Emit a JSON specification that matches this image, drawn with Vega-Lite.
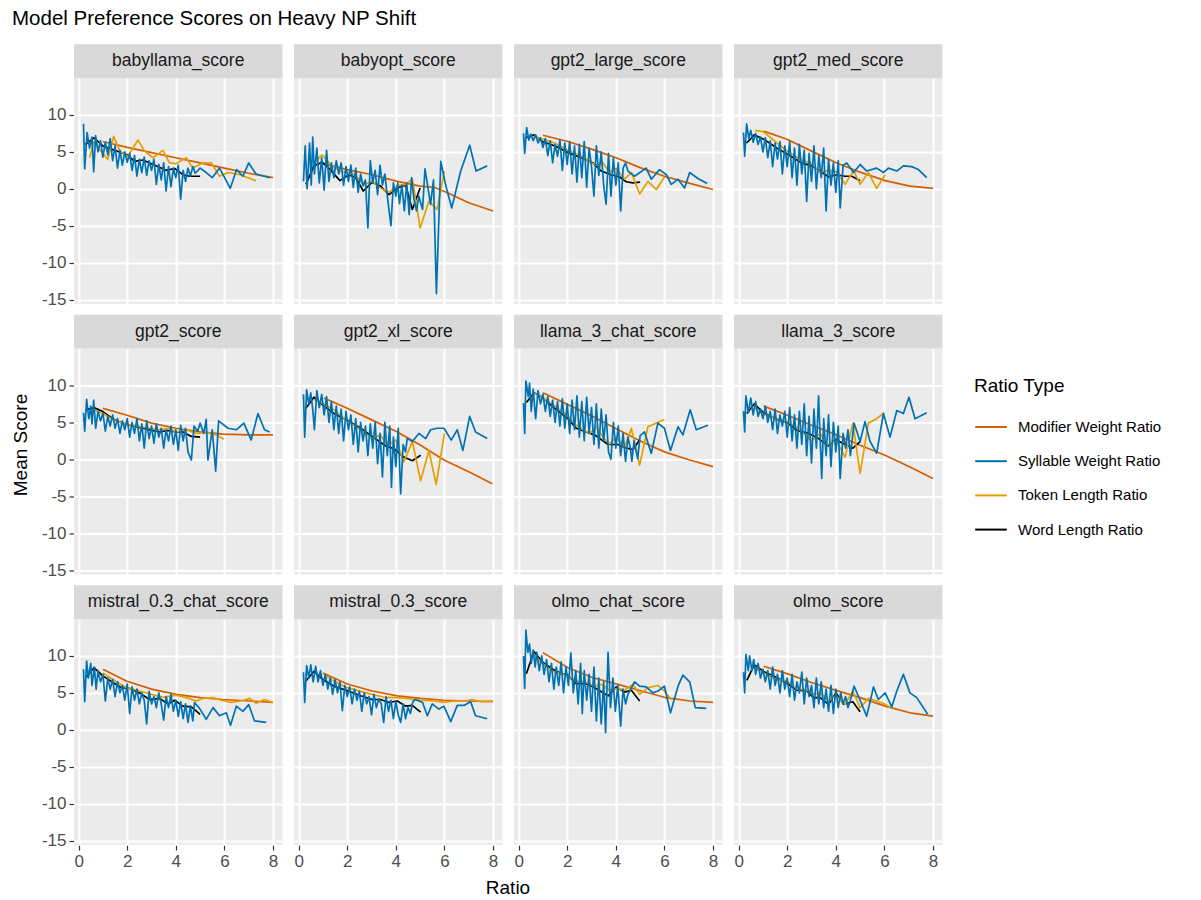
{
"$schema": "https://vega.github.io/schema/vega-lite/v6.json",
"background": "white",
"padding": {"left": 11, "top": 8, "right": 5, "bottom": 6},
"title": {"text": "Model Preference Scores on Heavy NP Shift", "anchor": "start", "frame": "bounds", "fontSize": 20.5, "fontWeight": "normal", "color": "#000000", "offset": 15},
"datasets": {
"pn": [{"p":1,"panel":"babyllama_score","r":1,"c":1},{"p":2,"panel":"babyopt_score","r":1,"c":2},{"p":3,"panel":"gpt2_large_score","r":1,"c":3},{"p":4,"panel":"gpt2_med_score","r":1,"c":4},{"p":5,"panel":"gpt2_score","r":2,"c":1},{"p":6,"panel":"gpt2_xl_score","r":2,"c":2},{"p":7,"panel":"llama_3_chat_score","r":2,"c":3},{"p":8,"panel":"llama_3_score","r":2,"c":4},{"p":9,"panel":"mistral_0.3_chat_score","r":3,"c":1},{"p":10,"panel":"mistral_0.3_score","r":3,"c":2},{"p":11,"panel":"olmo_chat_score","r":3,"c":3},{"p":12,"panel":"olmo_score","r":3,"c":4}],
"tn": [{"t":"M","type":"Modifier Weight Ratio"},{"t":"S","type":"Syllable Weight Ratio"},{"t":"T","type":"Token Length Ratio"},{"t":"W","type":"Word Length Ratio"}]
},
"data": {"values": [
{"p":1,"t":"M","x":1,"y":6.4},{"p":1,"t":"M","x":2,"y":5.6},{"p":1,"t":"M","x":3,"y":4.9},{"p":1,"t":"M","x":4,"y":4.2},{"p":1,"t":"M","x":5,"y":3.5},{"p":1,"t":"M","x":6,"y":2.8},{"p":1,"t":"M","x":7,"y":2.1},{"p":1,"t":"M","x":8,"y":1.5},
{"p":1,"t":"W","x":0.27,"y":6.0},{"p":1,"t":"W","x":0.63,"y":6.9},{"p":1,"t":"W","x":1.0,"y":5.8},{"p":1,"t":"W","x":1.4,"y":5.3},{"p":1,"t":"W","x":2.0,"y":4.6},{"p":1,"t":"W","x":2.3,"y":3.7},{"p":1,"t":"W","x":2.65,"y":3.9},{"p":1,"t":"W","x":3.06,"y":3.3},{"p":1,"t":"W","x":3.6,"y":2.5},{"p":1,"t":"W","x":3.95,"y":2.75},{"p":1,"t":"W","x":4.3,"y":1.9},{"p":1,"t":"W","x":4.57,"y":1.7},{"p":1,"t":"W","x":5.0,"y":1.7},
{"p":1,"t":"T","x":0.45,"y":4.2},{"p":1,"t":"T","x":0.63,"y":6.4},{"p":1,"t":"T","x":0.86,"y":5.3},{"p":1,"t":"T","x":1.2,"y":4.0},{"p":1,"t":"T","x":1.44,"y":7.1},{"p":1,"t":"T","x":1.7,"y":5.1},{"p":1,"t":"T","x":2.03,"y":4.4},{"p":1,"t":"T","x":2.44,"y":6.6},{"p":1,"t":"T","x":2.72,"y":5.1},{"p":1,"t":"T","x":3.06,"y":4.2},{"p":1,"t":"T","x":3.47,"y":5.2},{"p":1,"t":"T","x":3.74,"y":3.5},{"p":1,"t":"T","x":4.0,"y":3.4},{"p":1,"t":"T","x":4.43,"y":4.2},{"p":1,"t":"T","x":4.7,"y":2.8},{"p":1,"t":"T","x":5.1,"y":3.5},{"p":1,"t":"T","x":5.46,"y":3.5},{"p":1,"t":"T","x":5.8,"y":1.7},{"p":1,"t":"T","x":6.15,"y":2.2},{"p":1,"t":"T","x":6.63,"y":1.9},{"p":1,"t":"T","x":7.3,"y":1.1},
{"p":1,"t":"S","x":0.2,"y":8.8},{"p":1,"t":"S","x":0.25,"y":2.7},{"p":1,"t":"S","x":0.35,"y":7.6},{"p":1,"t":"S","x":0.45,"y":5.5},{"p":1,"t":"S","x":0.55,"y":7.0},{"p":1,"t":"S","x":0.62,"y":2.3},{"p":1,"t":"S","x":0.7,"y":7.2},{"p":1,"t":"S","x":0.8,"y":5.0},{"p":1,"t":"S","x":0.9,"y":6.5},{"p":1,"t":"S","x":1.0,"y":4.3},{"p":1,"t":"S","x":1.1,"y":6.3},{"p":1,"t":"S","x":1.2,"y":4.6},{"p":1,"t":"S","x":1.3,"y":6.8},{"p":1,"t":"S","x":1.4,"y":3.8},{"p":1,"t":"S","x":1.5,"y":5.8},{"p":1,"t":"S","x":1.6,"y":2.8},{"p":1,"t":"S","x":1.7,"y":5.2},{"p":1,"t":"S","x":1.8,"y":3.2},{"p":1,"t":"S","x":1.9,"y":5.0},{"p":1,"t":"S","x":2.0,"y":3.6},{"p":1,"t":"S","x":2.1,"y":4.8},{"p":1,"t":"S","x":2.2,"y":2.5},{"p":1,"t":"S","x":2.3,"y":4.5},{"p":1,"t":"S","x":2.4,"y":1.7},{"p":1,"t":"S","x":2.5,"y":4.0},{"p":1,"t":"S","x":2.6,"y":2.2},{"p":1,"t":"S","x":2.7,"y":4.3},{"p":1,"t":"S","x":2.8,"y":1.8},{"p":1,"t":"S","x":2.9,"y":3.8},{"p":1,"t":"S","x":3.0,"y":2.5},{"p":1,"t":"S","x":3.1,"y":4.0},{"p":1,"t":"S","x":3.2,"y":0.6},{"p":1,"t":"S","x":3.3,"y":3.3},{"p":1,"t":"S","x":3.4,"y":1.2},{"p":1,"t":"S","x":3.5,"y":3.5},{"p":1,"t":"S","x":3.6,"y":-0.3},{"p":1,"t":"S","x":3.7,"y":3.0},{"p":1,"t":"S","x":3.8,"y":0.3},{"p":1,"t":"S","x":3.9,"y":2.8},{"p":1,"t":"S","x":4.0,"y":1.5},{"p":1,"t":"S","x":4.1,"y":3.2},{"p":1,"t":"S","x":4.2,"y":-1.4},{"p":1,"t":"S","x":4.3,"y":2.5},{"p":1,"t":"S","x":4.4,"y":1.0},{"p":1,"t":"S","x":4.5,"y":2.8},{"p":1,"t":"S","x":4.6,"y":1.7},{"p":1,"t":"S","x":4.7,"y":3.0},{"p":1,"t":"S","x":4.8,"y":2.1},{"p":1,"t":"S","x":5.0,"y":2.8},{"p":1,"t":"S","x":5.25,"y":2.2},{"p":1,"t":"S","x":5.5,"y":1.5},{"p":1,"t":"S","x":5.8,"y":2.8},{"p":1,"t":"S","x":6.24,"y":0.05},{"p":1,"t":"S","x":6.5,"y":2.6},{"p":1,"t":"S","x":6.76,"y":1.7},{"p":1,"t":"S","x":7.0,"y":3.5},{"p":1,"t":"S","x":7.3,"y":2.0},{"p":1,"t":"S","x":7.86,"y":1.5},

{"p":2,"t":"M","x":1.0,"y":3.4},{"p":2,"t":"M","x":2.0,"y":2.6},{"p":2,"t":"M","x":3.03,"y":1.9},{"p":2,"t":"M","x":4.06,"y":1.0},{"p":2,"t":"M","x":5.0,"y":0.36},{"p":2,"t":"M","x":5.57,"y":0.2},{"p":2,"t":"M","x":6.1,"y":-0.5},{"p":2,"t":"M","x":7.0,"y":-1.9},{"p":2,"t":"M","x":8.0,"y":-3.0},
{"p":2,"t":"W","x":0.3,"y":0.6},{"p":2,"t":"W","x":0.63,"y":3.1},{"p":2,"t":"W","x":0.97,"y":3.6},{"p":2,"t":"W","x":1.3,"y":2.6},{"p":2,"t":"W","x":1.7,"y":1.1},{"p":2,"t":"W","x":2.07,"y":1.9},{"p":2,"t":"W","x":2.35,"y":1.5},{"p":2,"t":"W","x":2.66,"y":-0.3},{"p":2,"t":"W","x":3.03,"y":0.9},{"p":2,"t":"W","x":3.37,"y":0.36},{"p":2,"t":"W","x":3.72,"y":-0.8},{"p":2,"t":"W","x":4.06,"y":0.1},{"p":2,"t":"W","x":4.4,"y":0.5},{"p":2,"t":"W","x":4.68,"y":-2.8},{"p":2,"t":"W","x":5.0,"y":0.1},
{"p":2,"t":"T","x":0.63,"y":3.5},{"p":2,"t":"T","x":0.97,"y":4.6},{"p":2,"t":"T","x":1.3,"y":3.3},{"p":2,"t":"T","x":1.7,"y":2.4},{"p":2,"t":"T","x":2.07,"y":2.2},{"p":2,"t":"T","x":2.35,"y":1.7},{"p":2,"t":"T","x":2.7,"y":0.6},{"p":2,"t":"T","x":3.03,"y":1.0},{"p":2,"t":"T","x":3.37,"y":0.1},{"p":2,"t":"T","x":3.72,"y":-0.5},{"p":2,"t":"T","x":4.06,"y":0.4},{"p":2,"t":"T","x":4.4,"y":0.6},{"p":2,"t":"T","x":4.68,"y":1.3},{"p":2,"t":"T","x":5.0,"y":-5.3},{"p":2,"t":"T","x":5.36,"y":-1.7},{"p":2,"t":"T","x":5.7,"y":-2.8},{"p":2,"t":"T","x":6.0,"y":2.4},
{"p":2,"t":"S","x":0.2,"y":1.0},{"p":2,"t":"S","x":0.27,"y":5.8},{"p":2,"t":"S","x":0.35,"y":0.0},{"p":2,"t":"S","x":0.45,"y":6.2},{"p":2,"t":"S","x":0.52,"y":0.5},{"p":2,"t":"S","x":0.58,"y":7.0},{"p":2,"t":"S","x":0.65,"y":2.0},{"p":2,"t":"S","x":0.75,"y":5.5},{"p":2,"t":"S","x":0.85,"y":0.8},{"p":2,"t":"S","x":0.95,"y":4.2},{"p":2,"t":"S","x":1.05,"y":-0.2},{"p":2,"t":"S","x":1.15,"y":5.2},{"p":2,"t":"S","x":1.25,"y":1.0},{"p":2,"t":"S","x":1.35,"y":3.5},{"p":2,"t":"S","x":1.45,"y":1.5},{"p":2,"t":"S","x":1.55,"y":3.8},{"p":2,"t":"S","x":1.65,"y":2.0},{"p":2,"t":"S","x":1.75,"y":3.5},{"p":2,"t":"S","x":1.85,"y":0.5},{"p":2,"t":"S","x":1.95,"y":3.0},{"p":2,"t":"S","x":2.05,"y":1.0},{"p":2,"t":"S","x":2.15,"y":3.2},{"p":2,"t":"S","x":2.25,"y":0.2},{"p":2,"t":"S","x":2.35,"y":2.8},{"p":2,"t":"S","x":2.45,"y":-0.5},{"p":2,"t":"S","x":2.55,"y":2.0},{"p":2,"t":"S","x":2.65,"y":0.4},{"p":2,"t":"S","x":2.75,"y":1.2},{"p":2,"t":"S","x":2.85,"y":-5.3},{"p":2,"t":"S","x":2.95,"y":3.8},{"p":2,"t":"S","x":3.05,"y":0.8},{"p":2,"t":"S","x":3.15,"y":2.5},{"p":2,"t":"S","x":3.25,"y":-0.8},{"p":2,"t":"S","x":3.35,"y":3.2},{"p":2,"t":"S","x":3.45,"y":0.5},{"p":2,"t":"S","x":3.55,"y":2.0},{"p":2,"t":"S","x":3.65,"y":-1.0},{"p":2,"t":"S","x":3.8,"y":-5.0},{"p":2,"t":"S","x":3.9,"y":0.8},{"p":2,"t":"S","x":4.0,"y":-1.0},{"p":2,"t":"S","x":4.08,"y":0.8},{"p":2,"t":"S","x":4.15,"y":-2.0},{"p":2,"t":"S","x":4.25,"y":0.5},{"p":2,"t":"S","x":4.35,"y":-3.0},{"p":2,"t":"S","x":4.45,"y":0.8},{"p":2,"t":"S","x":4.55,"y":-3.5},{"p":2,"t":"S","x":4.65,"y":1.5},{"p":2,"t":"S","x":4.75,"y":-1.5},{"p":2,"t":"S","x":4.85,"y":-3.0},{"p":2,"t":"S","x":4.95,"y":-1.0},{"p":2,"t":"S","x":5.1,"y":-2.8},{"p":2,"t":"S","x":5.2,"y":2.7},{"p":2,"t":"S","x":5.43,"y":-2.1},{"p":2,"t":"S","x":5.55,"y":1.2},{"p":2,"t":"S","x":5.67,"y":-14.2},{"p":2,"t":"S","x":5.85,"y":3.7},{"p":2,"t":"S","x":6.05,"y":0.5},{"p":2,"t":"S","x":6.3,"y":-2.6},{"p":2,"t":"S","x":6.67,"y":2.4},{"p":2,"t":"S","x":7.04,"y":5.9},{"p":2,"t":"S","x":7.3,"y":2.4},{"p":2,"t":"S","x":7.76,"y":3.1},

{"p":3,"t":"M","x":1.0,"y":7.25},{"p":3,"t":"M","x":2.03,"y":6.4},{"p":3,"t":"M","x":3.06,"y":5.3},{"p":3,"t":"M","x":4.09,"y":4.1},{"p":3,"t":"M","x":5.05,"y":2.8},{"p":3,"t":"M","x":6.0,"y":1.7},{"p":3,"t":"M","x":6.97,"y":0.8},{"p":3,"t":"M","x":8.0,"y":-0.1},
{"p":3,"t":"W","x":0.3,"y":6.9},{"p":3,"t":"W","x":0.63,"y":7.3},{"p":3,"t":"W","x":1.0,"y":6.35},{"p":3,"t":"W","x":1.5,"y":5.8},{"p":3,"t":"W","x":2.03,"y":4.9},{"p":3,"t":"W","x":2.58,"y":4.2},{"p":3,"t":"W","x":3.06,"y":3.5},{"p":3,"t":"W","x":3.4,"y":2.4},{"p":3,"t":"W","x":3.8,"y":1.9},{"p":3,"t":"W","x":4.16,"y":1.6},{"p":3,"t":"W","x":4.43,"y":0.95},{"p":3,"t":"W","x":4.7,"y":0.8},{"p":3,"t":"W","x":5.0,"y":0.9},
{"p":3,"t":"T","x":0.63,"y":7.1},{"p":3,"t":"T","x":1.0,"y":6.7},{"p":3,"t":"T","x":1.48,"y":6.2},{"p":3,"t":"T","x":2.03,"y":5.2},{"p":3,"t":"T","x":2.58,"y":4.4},{"p":3,"t":"T","x":2.99,"y":3.5},{"p":3,"t":"T","x":3.26,"y":3.2},{"p":3,"t":"T","x":3.47,"y":3.5},{"p":3,"t":"T","x":3.74,"y":2.25},{"p":3,"t":"T","x":4.02,"y":2.75},{"p":3,"t":"T","x":4.36,"y":1.3},{"p":3,"t":"T","x":4.64,"y":2.2},{"p":3,"t":"T","x":4.98,"y":-0.7},{"p":3,"t":"T","x":5.32,"y":1.0},{"p":3,"t":"T","x":5.67,"y":-0.1},{"p":3,"t":"T","x":6.0,"y":1.6},
{"p":3,"t":"S","x":0.2,"y":7.5},{"p":3,"t":"S","x":0.25,"y":4.8},{"p":3,"t":"S","x":0.33,"y":8.3},{"p":3,"t":"S","x":0.42,"y":6.6},{"p":3,"t":"S","x":0.5,"y":7.4},{"p":3,"t":"S","x":0.6,"y":6.5},{"p":3,"t":"S","x":0.7,"y":7.3},{"p":3,"t":"S","x":0.8,"y":6.2},{"p":3,"t":"S","x":0.9,"y":6.9},{"p":3,"t":"S","x":1.0,"y":5.6},{"p":3,"t":"S","x":1.1,"y":6.8},{"p":3,"t":"S","x":1.2,"y":4.5},{"p":3,"t":"S","x":1.3,"y":6.5},{"p":3,"t":"S","x":1.4,"y":3.5},{"p":3,"t":"S","x":1.5,"y":6.0},{"p":3,"t":"S","x":1.6,"y":4.4},{"p":3,"t":"S","x":1.7,"y":6.6},{"p":3,"t":"S","x":1.8,"y":2.5},{"p":3,"t":"S","x":1.9,"y":6.2},{"p":3,"t":"S","x":2.0,"y":3.3},{"p":3,"t":"S","x":2.1,"y":6.4},{"p":3,"t":"S","x":2.2,"y":2.0},{"p":3,"t":"S","x":2.3,"y":5.8},{"p":3,"t":"S","x":2.4,"y":0.9},{"p":3,"t":"S","x":2.5,"y":6.0},{"p":3,"t":"S","x":2.6,"y":1.5},{"p":3,"t":"S","x":2.7,"y":6.4},{"p":3,"t":"S","x":2.8,"y":0.2},{"p":3,"t":"S","x":2.9,"y":5.5},{"p":3,"t":"S","x":3.0,"y":3.0},{"p":3,"t":"S","x":3.1,"y":-1.0},{"p":3,"t":"S","x":3.2,"y":5.8},{"p":3,"t":"S","x":3.3,"y":1.8},{"p":3,"t":"S","x":3.4,"y":5.0},{"p":3,"t":"S","x":3.5,"y":0.5},{"p":3,"t":"S","x":3.6,"y":-2.1},{"p":3,"t":"S","x":3.7,"y":4.8},{"p":3,"t":"S","x":3.8,"y":-1.0},{"p":3,"t":"S","x":3.9,"y":4.2},{"p":3,"t":"S","x":4.0,"y":0.5},{"p":3,"t":"S","x":4.1,"y":3.5},{"p":3,"t":"S","x":4.2,"y":-3.0},{"p":3,"t":"S","x":4.3,"y":2.8},{"p":3,"t":"S","x":4.4,"y":3.5},{"p":3,"t":"S","x":4.5,"y":2.4},{"p":3,"t":"S","x":4.77,"y":1.7},{"p":3,"t":"S","x":5.25,"y":2.8},{"p":3,"t":"S","x":5.46,"y":1.3},{"p":3,"t":"S","x":5.8,"y":2.6},{"p":3,"t":"S","x":6.08,"y":1.9},{"p":3,"t":"S","x":6.28,"y":0.6},{"p":3,"t":"S","x":6.56,"y":1.3},{"p":3,"t":"S","x":6.83,"y":0.1},{"p":3,"t":"S","x":7.04,"y":2.2},{"p":3,"t":"S","x":7.38,"y":1.4},{"p":3,"t":"S","x":7.76,"y":0.7},

{"p":4,"t":"M","x":1.03,"y":7.8},{"p":4,"t":"M","x":1.99,"y":6.7},{"p":4,"t":"M","x":3.0,"y":5.1},{"p":4,"t":"M","x":4.04,"y":3.5},{"p":4,"t":"M","x":5.0,"y":2.25},{"p":4,"t":"M","x":6.03,"y":1.1},{"p":4,"t":"M","x":7.05,"y":0.36},{"p":4,"t":"M","x":8.0,"y":0.05},
{"p":4,"t":"W","x":0.32,"y":6.2},{"p":4,"t":"W","x":0.48,"y":6.7},{"p":4,"t":"W","x":0.64,"y":7.3},{"p":4,"t":"W","x":1.03,"y":6.7},{"p":4,"t":"W","x":1.58,"y":5.5},{"p":4,"t":"W","x":2.05,"y":4.6},{"p":4,"t":"W","x":2.6,"y":3.5},{"p":4,"t":"W","x":3.0,"y":3.1},{"p":4,"t":"W","x":3.36,"y":2.4},{"p":4,"t":"W","x":3.7,"y":1.6},{"p":4,"t":"W","x":4.04,"y":1.9},{"p":4,"t":"W","x":4.38,"y":1.7},{"p":4,"t":"W","x":4.66,"y":1.7},{"p":4,"t":"W","x":5.0,"y":1.1},
{"p":4,"t":"T","x":0.68,"y":7.9},{"p":4,"t":"T","x":1.03,"y":7.7},{"p":4,"t":"T","x":1.58,"y":6.2},{"p":4,"t":"T","x":2.05,"y":5.0},{"p":4,"t":"T","x":2.53,"y":4.0},{"p":4,"t":"T","x":3.0,"y":3.4},{"p":4,"t":"T","x":3.36,"y":2.2},{"p":4,"t":"T","x":3.7,"y":2.5},{"p":4,"t":"T","x":4.04,"y":2.3},{"p":4,"t":"T","x":4.38,"y":0.6},{"p":4,"t":"T","x":4.73,"y":2.5},{"p":4,"t":"T","x":5.0,"y":0.6},{"p":4,"t":"T","x":5.34,"y":2.2},{"p":4,"t":"T","x":5.68,"y":0.05},{"p":4,"t":"T","x":6.03,"y":1.9},
{"p":4,"t":"S","x":0.2,"y":7.6},{"p":4,"t":"S","x":0.25,"y":4.4},{"p":4,"t":"S","x":0.33,"y":8.8},{"p":4,"t":"S","x":0.42,"y":6.8},{"p":4,"t":"S","x":0.5,"y":7.9},{"p":4,"t":"S","x":0.6,"y":6.3},{"p":4,"t":"S","x":0.7,"y":7.5},{"p":4,"t":"S","x":0.8,"y":6.0},{"p":4,"t":"S","x":0.9,"y":7.0},{"p":4,"t":"S","x":1.0,"y":5.0},{"p":4,"t":"S","x":1.1,"y":6.9},{"p":4,"t":"S","x":1.2,"y":4.2},{"p":4,"t":"S","x":1.3,"y":6.5},{"p":4,"t":"S","x":1.4,"y":3.0},{"p":4,"t":"S","x":1.5,"y":6.2},{"p":4,"t":"S","x":1.6,"y":4.0},{"p":4,"t":"S","x":1.7,"y":6.4},{"p":4,"t":"S","x":1.8,"y":2.0},{"p":4,"t":"S","x":1.9,"y":5.8},{"p":4,"t":"S","x":2.0,"y":3.0},{"p":4,"t":"S","x":2.1,"y":6.4},{"p":4,"t":"S","x":2.2,"y":1.5},{"p":4,"t":"S","x":2.3,"y":5.5},{"p":4,"t":"S","x":2.4,"y":0.5},{"p":4,"t":"S","x":2.5,"y":6.0},{"p":4,"t":"S","x":2.6,"y":2.0},{"p":4,"t":"S","x":2.7,"y":5.2},{"p":4,"t":"S","x":2.8,"y":-1.7},{"p":4,"t":"S","x":2.9,"y":4.8},{"p":4,"t":"S","x":3.0,"y":1.0},{"p":4,"t":"S","x":3.1,"y":5.8},{"p":4,"t":"S","x":3.2,"y":0.0},{"p":4,"t":"S","x":3.3,"y":4.5},{"p":4,"t":"S","x":3.4,"y":1.5},{"p":4,"t":"S","x":3.5,"y":5.5},{"p":4,"t":"S","x":3.6,"y":-3.0},{"p":4,"t":"S","x":3.7,"y":4.0},{"p":4,"t":"S","x":3.8,"y":0.5},{"p":4,"t":"S","x":3.9,"y":3.5},{"p":4,"t":"S","x":4.0,"y":-0.5},{"p":4,"t":"S","x":4.1,"y":3.8},{"p":4,"t":"S","x":4.18,"y":-2.6},{"p":4,"t":"S","x":4.3,"y":3.2},{"p":4,"t":"S","x":4.45,"y":3.5},{"p":4,"t":"S","x":4.73,"y":2.2},{"p":4,"t":"S","x":5.0,"y":3.3},{"p":4,"t":"S","x":5.27,"y":2.4},{"p":4,"t":"S","x":5.68,"y":2.8},{"p":4,"t":"S","x":5.96,"y":2.2},{"p":4,"t":"S","x":6.16,"y":2.8},{"p":4,"t":"S","x":6.51,"y":2.4},{"p":4,"t":"S","x":6.78,"y":3.1},{"p":4,"t":"S","x":7.12,"y":3.0},{"p":4,"t":"S","x":7.4,"y":2.6},{"p":4,"t":"S","x":7.74,"y":1.5},

{"p":5,"t":"M","x":1.0,"y":6.9},{"p":5,"t":"M","x":1.96,"y":6.0},{"p":5,"t":"M","x":3.0,"y":4.9},{"p":5,"t":"M","x":4.0,"y":4.2},{"p":5,"t":"M","x":5.0,"y":3.7},{"p":5,"t":"M","x":5.94,"y":3.4},{"p":5,"t":"M","x":7.04,"y":3.3},{"p":5,"t":"M","x":8.0,"y":3.3},
{"p":5,"t":"W","x":0.3,"y":6.7},{"p":5,"t":"W","x":0.63,"y":7.0},{"p":5,"t":"W","x":1.0,"y":6.45},{"p":5,"t":"W","x":1.4,"y":5.5},{"p":5,"t":"W","x":1.8,"y":4.9},{"p":5,"t":"W","x":2.37,"y":4.4},{"p":5,"t":"W","x":2.9,"y":4.0},{"p":5,"t":"W","x":3.33,"y":3.7},{"p":5,"t":"W","x":3.68,"y":3.9},{"p":5,"t":"W","x":4.0,"y":3.7},{"p":5,"t":"W","x":4.3,"y":3.7},{"p":5,"t":"W","x":4.64,"y":3.1},{"p":5,"t":"W","x":5.0,"y":3.0},
{"p":5,"t":"T","x":0.63,"y":6.7},{"p":5,"t":"T","x":1.0,"y":6.2},{"p":5,"t":"T","x":1.4,"y":5.4},{"p":5,"t":"T","x":1.8,"y":4.9},{"p":5,"t":"T","x":2.37,"y":4.5},{"p":5,"t":"T","x":2.9,"y":4.2},{"p":5,"t":"T","x":3.33,"y":4.0},{"p":5,"t":"T","x":3.68,"y":4.2},{"p":5,"t":"T","x":4.0,"y":3.7},{"p":5,"t":"T","x":4.43,"y":4.0},{"p":5,"t":"T","x":4.84,"y":3.5},{"p":5,"t":"T","x":5.25,"y":3.6},{"p":5,"t":"T","x":5.67,"y":3.3},{"p":5,"t":"T","x":5.97,"y":2.7},
{"p":5,"t":"S","x":0.2,"y":6.3},{"p":5,"t":"S","x":0.25,"y":3.8},{"p":5,"t":"S","x":0.33,"y":8.1},{"p":5,"t":"S","x":0.42,"y":5.5},{"p":5,"t":"S","x":0.5,"y":7.2},{"p":5,"t":"S","x":0.55,"y":4.8},{"p":5,"t":"S","x":0.62,"y":8.0},{"p":5,"t":"S","x":0.7,"y":4.2},{"p":5,"t":"S","x":0.8,"y":6.5},{"p":5,"t":"S","x":0.9,"y":5.2},{"p":5,"t":"S","x":1.0,"y":6.2},{"p":5,"t":"S","x":1.1,"y":3.8},{"p":5,"t":"S","x":1.2,"y":5.8},{"p":5,"t":"S","x":1.3,"y":4.5},{"p":5,"t":"S","x":1.4,"y":6.0},{"p":5,"t":"S","x":1.5,"y":4.2},{"p":5,"t":"S","x":1.6,"y":5.5},{"p":5,"t":"S","x":1.7,"y":3.5},{"p":5,"t":"S","x":1.8,"y":5.2},{"p":5,"t":"S","x":1.9,"y":4.0},{"p":5,"t":"S","x":2.0,"y":5.5},{"p":5,"t":"S","x":2.1,"y":3.0},{"p":5,"t":"S","x":2.2,"y":5.0},{"p":5,"t":"S","x":2.3,"y":3.5},{"p":5,"t":"S","x":2.4,"y":5.5},{"p":5,"t":"S","x":2.5,"y":2.5},{"p":5,"t":"S","x":2.6,"y":4.8},{"p":5,"t":"S","x":2.7,"y":1.5},{"p":5,"t":"S","x":2.8,"y":5.2},{"p":5,"t":"S","x":2.9,"y":2.8},{"p":5,"t":"S","x":3.0,"y":4.5},{"p":5,"t":"S","x":3.1,"y":2.2},{"p":5,"t":"S","x":3.2,"y":4.8},{"p":5,"t":"S","x":3.3,"y":3.0},{"p":5,"t":"S","x":3.4,"y":4.2},{"p":5,"t":"S","x":3.5,"y":1.5},{"p":5,"t":"S","x":3.6,"y":4.0},{"p":5,"t":"S","x":3.7,"y":2.5},{"p":5,"t":"S","x":3.8,"y":4.5},{"p":5,"t":"S","x":3.9,"y":2.0},{"p":5,"t":"S","x":4.0,"y":4.0},{"p":5,"t":"S","x":4.1,"y":1.2},{"p":5,"t":"S","x":4.2,"y":4.6},{"p":5,"t":"S","x":4.3,"y":2.5},{"p":5,"t":"S","x":4.4,"y":4.2},{"p":5,"t":"S","x":4.5,"y":1.0},{"p":5,"t":"S","x":4.64,"y":-0.1},{"p":5,"t":"S","x":4.75,"y":4.5},{"p":5,"t":"S","x":4.9,"y":3.8},{"p":5,"t":"S","x":5.0,"y":4.9},{"p":5,"t":"S","x":5.15,"y":3.5},{"p":5,"t":"S","x":5.25,"y":5.4},{"p":5,"t":"S","x":5.32,"y":-0.1},{"p":5,"t":"S","x":5.5,"y":4.0},{"p":5,"t":"S","x":5.64,"y":-1.6},{"p":5,"t":"S","x":5.76,"y":5.2},{"p":5,"t":"S","x":6.15,"y":4.2},{"p":5,"t":"S","x":6.5,"y":4.0},{"p":5,"t":"S","x":6.8,"y":4.9},{"p":5,"t":"S","x":7.1,"y":2.6},{"p":5,"t":"S","x":7.38,"y":6.2},{"p":5,"t":"S","x":7.65,"y":4.0},{"p":5,"t":"S","x":7.86,"y":3.7},

{"p":6,"t":"M","x":1.04,"y":8.3},{"p":6,"t":"M","x":2.0,"y":6.9},{"p":6,"t":"M","x":3.03,"y":5.3},{"p":6,"t":"M","x":4.06,"y":3.7},{"p":6,"t":"M","x":5.02,"y":1.9},{"p":6,"t":"M","x":5.98,"y":-0.1},{"p":6,"t":"M","x":7.0,"y":-1.7},{"p":6,"t":"M","x":7.97,"y":-3.3},
{"p":6,"t":"W","x":0.3,"y":6.9},{"p":6,"t":"W","x":0.63,"y":8.4},{"p":6,"t":"W","x":0.97,"y":7.4},{"p":6,"t":"W","x":1.45,"y":6.2},{"p":6,"t":"W","x":2.0,"y":5.3},{"p":6,"t":"W","x":2.55,"y":4.2},{"p":6,"t":"W","x":3.03,"y":3.1},{"p":6,"t":"W","x":3.58,"y":1.8},{"p":6,"t":"W","x":3.92,"y":1.45},{"p":6,"t":"W","x":4.33,"y":0.3},{"p":6,"t":"W","x":4.68,"y":-0.2},{"p":6,"t":"W","x":5.02,"y":0.55},
{"p":6,"t":"T","x":0.63,"y":8.1},{"p":6,"t":"T","x":0.97,"y":7.6},{"p":6,"t":"T","x":1.45,"y":6.7},{"p":6,"t":"T","x":2.0,"y":5.2},{"p":6,"t":"T","x":2.55,"y":4.0},{"p":6,"t":"T","x":3.03,"y":2.8},{"p":6,"t":"T","x":3.37,"y":3.3},{"p":6,"t":"T","x":3.65,"y":1.9},{"p":6,"t":"T","x":4.0,"y":2.6},{"p":6,"t":"T","x":4.33,"y":-0.36},{"p":6,"t":"T","x":4.68,"y":2.4},{"p":6,"t":"T","x":5.02,"y":-2.9},{"p":6,"t":"T","x":5.36,"y":1.2},{"p":6,"t":"T","x":5.66,"y":-3.4},{"p":6,"t":"T","x":6.0,"y":3.5},
{"p":6,"t":"S","x":0.2,"y":8.8},{"p":6,"t":"S","x":0.25,"y":3.0},{"p":6,"t":"S","x":0.33,"y":9.4},{"p":6,"t":"S","x":0.42,"y":7.5},{"p":6,"t":"S","x":0.5,"y":9.0},{"p":6,"t":"S","x":0.58,"y":6.8},{"p":6,"t":"S","x":0.65,"y":4.0},{"p":6,"t":"S","x":0.75,"y":9.3},{"p":6,"t":"S","x":0.85,"y":7.0},{"p":6,"t":"S","x":0.95,"y":8.8},{"p":6,"t":"S","x":1.05,"y":6.0},{"p":6,"t":"S","x":1.15,"y":8.5},{"p":6,"t":"S","x":1.25,"y":5.0},{"p":6,"t":"S","x":1.35,"y":7.8},{"p":6,"t":"S","x":1.45,"y":4.0},{"p":6,"t":"S","x":1.55,"y":7.2},{"p":6,"t":"S","x":1.65,"y":3.5},{"p":6,"t":"S","x":1.75,"y":6.8},{"p":6,"t":"S","x":1.85,"y":2.5},{"p":6,"t":"S","x":1.95,"y":6.5},{"p":6,"t":"S","x":2.05,"y":4.0},{"p":6,"t":"S","x":2.15,"y":6.0},{"p":6,"t":"S","x":2.25,"y":2.0},{"p":6,"t":"S","x":2.35,"y":5.5},{"p":6,"t":"S","x":2.45,"y":1.0},{"p":6,"t":"S","x":2.55,"y":5.0},{"p":6,"t":"S","x":2.65,"y":2.5},{"p":6,"t":"S","x":2.75,"y":4.5},{"p":6,"t":"S","x":2.85,"y":0.5},{"p":6,"t":"S","x":2.95,"y":4.8},{"p":6,"t":"S","x":3.05,"y":1.5},{"p":6,"t":"S","x":3.15,"y":5.0},{"p":6,"t":"S","x":3.25,"y":-0.6},{"p":6,"t":"S","x":3.35,"y":3.5},{"p":6,"t":"S","x":3.45,"y":-2.4},{"p":6,"t":"S","x":3.55,"y":5.0},{"p":6,"t":"S","x":3.65,"y":0.5},{"p":6,"t":"S","x":3.75,"y":4.5},{"p":6,"t":"S","x":3.82,"y":-3.8},{"p":6,"t":"S","x":3.9,"y":3.0},{"p":6,"t":"S","x":4.0,"y":-1.0},{"p":6,"t":"S","x":4.1,"y":4.2},{"p":6,"t":"S","x":4.2,"y":-4.7},{"p":6,"t":"S","x":4.3,"y":2.0},{"p":6,"t":"S","x":4.4,"y":1.0},{"p":6,"t":"S","x":4.47,"y":2.8},{"p":6,"t":"S","x":4.68,"y":2.4},{"p":6,"t":"S","x":4.95,"y":3.5},{"p":6,"t":"S","x":5.23,"y":2.8},{"p":6,"t":"S","x":5.43,"y":4.0},{"p":6,"t":"S","x":5.7,"y":4.2},{"p":6,"t":"S","x":5.98,"y":4.2},{"p":6,"t":"S","x":6.28,"y":2.6},{"p":6,"t":"S","x":6.53,"y":4.0},{"p":6,"t":"S","x":6.76,"y":1.2},{"p":6,"t":"S","x":7.04,"y":5.8},{"p":6,"t":"S","x":7.28,"y":3.7},{"p":6,"t":"S","x":7.76,"y":2.8},

{"p":7,"t":"M","x":1.0,"y":9.0},{"p":7,"t":"M","x":2.03,"y":7.4},{"p":7,"t":"M","x":3.06,"y":5.8},{"p":7,"t":"M","x":4.09,"y":4.0},{"p":7,"t":"M","x":5.05,"y":2.4},{"p":7,"t":"M","x":6.0,"y":1.0},{"p":7,"t":"M","x":7.04,"y":-0.1},{"p":7,"t":"M","x":8.0,"y":-1.0},
{"p":7,"t":"W","x":0.32,"y":7.7},{"p":7,"t":"W","x":0.63,"y":9.0},{"p":7,"t":"W","x":1.0,"y":8.3},{"p":7,"t":"W","x":1.41,"y":7.1},{"p":7,"t":"W","x":1.76,"y":6.2},{"p":7,"t":"W","x":2.03,"y":5.5},{"p":7,"t":"W","x":2.37,"y":4.2},{"p":7,"t":"W","x":2.78,"y":3.7},{"p":7,"t":"W","x":3.13,"y":3.3},{"p":7,"t":"W","x":3.68,"y":2.0},{"p":7,"t":"W","x":4.09,"y":2.0},{"p":7,"t":"W","x":4.36,"y":1.6},{"p":7,"t":"W","x":4.7,"y":1.3},{"p":7,"t":"W","x":4.98,"y":2.6},
{"p":7,"t":"T","x":0.63,"y":8.95},{"p":7,"t":"T","x":1.0,"y":8.3},{"p":7,"t":"T","x":1.41,"y":7.4},{"p":7,"t":"T","x":2.03,"y":5.8},{"p":7,"t":"T","x":2.37,"y":4.6},{"p":7,"t":"T","x":2.65,"y":4.0},{"p":7,"t":"T","x":2.92,"y":3.5},{"p":7,"t":"T","x":3.2,"y":4.4},{"p":7,"t":"T","x":3.47,"y":3.0},{"p":7,"t":"T","x":3.74,"y":2.1},{"p":7,"t":"T","x":4.02,"y":3.0},{"p":7,"t":"T","x":4.36,"y":1.6},{"p":7,"t":"T","x":4.64,"y":4.2},{"p":7,"t":"T","x":4.98,"y":-0.8},{"p":7,"t":"T","x":5.32,"y":4.4},{"p":7,"t":"T","x":5.67,"y":4.9},{"p":7,"t":"T","x":6.0,"y":5.4},
{"p":7,"t":"S","x":0.2,"y":7.6},{"p":7,"t":"S","x":0.25,"y":3.5},{"p":7,"t":"S","x":0.3,"y":10.6},{"p":7,"t":"S","x":0.4,"y":8.5},{"p":7,"t":"S","x":0.45,"y":10.3},{"p":7,"t":"S","x":0.52,"y":6.5},{"p":7,"t":"S","x":0.6,"y":9.5},{"p":7,"t":"S","x":0.7,"y":5.5},{"p":7,"t":"S","x":0.8,"y":9.3},{"p":7,"t":"S","x":0.9,"y":7.5},{"p":7,"t":"S","x":1.0,"y":8.8},{"p":7,"t":"S","x":1.1,"y":6.5},{"p":7,"t":"S","x":1.2,"y":8.5},{"p":7,"t":"S","x":1.3,"y":5.8},{"p":7,"t":"S","x":1.4,"y":8.0},{"p":7,"t":"S","x":1.5,"y":5.0},{"p":7,"t":"S","x":1.6,"y":7.8},{"p":7,"t":"S","x":1.7,"y":4.5},{"p":7,"t":"S","x":1.8,"y":8.2},{"p":7,"t":"S","x":1.9,"y":4.2},{"p":7,"t":"S","x":2.0,"y":7.5},{"p":7,"t":"S","x":2.1,"y":3.5},{"p":7,"t":"S","x":2.2,"y":8.0},{"p":7,"t":"S","x":2.3,"y":4.0},{"p":7,"t":"S","x":2.4,"y":8.6},{"p":7,"t":"S","x":2.5,"y":3.0},{"p":7,"t":"S","x":2.6,"y":7.8},{"p":7,"t":"S","x":2.7,"y":2.5},{"p":7,"t":"S","x":2.8,"y":8.4},{"p":7,"t":"S","x":2.9,"y":3.5},{"p":7,"t":"S","x":3.0,"y":7.0},{"p":7,"t":"S","x":3.1,"y":2.0},{"p":7,"t":"S","x":3.2,"y":7.5},{"p":7,"t":"S","x":3.3,"y":1.5},{"p":7,"t":"S","x":3.4,"y":6.8},{"p":7,"t":"S","x":3.5,"y":2.5},{"p":7,"t":"S","x":3.6,"y":6.0},{"p":7,"t":"S","x":3.7,"y":1.0},{"p":7,"t":"S","x":3.8,"y":0.0},{"p":7,"t":"S","x":3.9,"y":5.0},{"p":7,"t":"S","x":4.0,"y":1.5},{"p":7,"t":"S","x":4.1,"y":4.5},{"p":7,"t":"S","x":4.2,"y":0.5},{"p":7,"t":"S","x":4.3,"y":3.5},{"p":7,"t":"S","x":4.4,"y":-0.3},{"p":7,"t":"S","x":4.5,"y":3.0},{"p":7,"t":"S","x":4.6,"y":1.5},{"p":7,"t":"S","x":4.66,"y":-0.3},{"p":7,"t":"S","x":4.75,"y":2.5},{"p":7,"t":"S","x":4.9,"y":0.1},{"p":7,"t":"S","x":5.0,"y":3.2},{"p":7,"t":"S","x":5.18,"y":3.7},{"p":7,"t":"S","x":5.46,"y":0.8},{"p":7,"t":"S","x":5.73,"y":4.9},{"p":7,"t":"S","x":6.0,"y":4.2},{"p":7,"t":"S","x":6.25,"y":1.2},{"p":7,"t":"S","x":6.56,"y":4.4},{"p":7,"t":"S","x":6.76,"y":3.3},{"p":7,"t":"S","x":7.06,"y":6.7},{"p":7,"t":"S","x":7.31,"y":4.0},{"p":7,"t":"S","x":7.79,"y":4.6},

{"p":8,"t":"M","x":1.03,"y":7.2},{"p":8,"t":"M","x":1.99,"y":6.0},{"p":8,"t":"M","x":3.0,"y":4.6},{"p":8,"t":"M","x":4.04,"y":3.3},{"p":8,"t":"M","x":5.0,"y":1.9},{"p":8,"t":"M","x":6.03,"y":0.55},{"p":8,"t":"M","x":7.05,"y":-1.05},{"p":8,"t":"M","x":8.0,"y":-2.6},
{"p":8,"t":"W","x":0.34,"y":6.2},{"p":8,"t":"W","x":0.64,"y":7.5},{"p":8,"t":"W","x":1.03,"y":6.3},{"p":8,"t":"W","x":1.58,"y":5.4},{"p":8,"t":"W","x":1.99,"y":5.0},{"p":8,"t":"W","x":2.4,"y":3.9},{"p":8,"t":"W","x":2.88,"y":3.5},{"p":8,"t":"W","x":3.29,"y":2.8},{"p":8,"t":"W","x":3.7,"y":1.8},{"p":8,"t":"W","x":3.97,"y":2.7},{"p":8,"t":"W","x":4.32,"y":2.1},{"p":8,"t":"W","x":4.7,"y":1.5},{"p":8,"t":"W","x":5.0,"y":2.4},
{"p":8,"t":"T","x":0.64,"y":7.0},{"p":8,"t":"T","x":1.03,"y":6.1},{"p":8,"t":"T","x":1.58,"y":5.5},{"p":8,"t":"T","x":1.99,"y":5.1},{"p":8,"t":"T","x":2.53,"y":4.0},{"p":8,"t":"T","x":3.0,"y":2.5},{"p":8,"t":"T","x":3.36,"y":3.5},{"p":8,"t":"T","x":3.63,"y":1.9},{"p":8,"t":"T","x":4.01,"y":2.6},{"p":8,"t":"T","x":4.38,"y":0.3},{"p":8,"t":"T","x":4.7,"y":4.9},{"p":8,"t":"T","x":5.0,"y":-1.9},{"p":8,"t":"T","x":5.34,"y":4.9},{"p":8,"t":"T","x":5.68,"y":5.5},{"p":8,"t":"T","x":5.99,"y":6.3},
{"p":8,"t":"S","x":0.2,"y":6.5},{"p":8,"t":"S","x":0.25,"y":3.7},{"p":8,"t":"S","x":0.3,"y":8.6},{"p":8,"t":"S","x":0.4,"y":6.3},{"p":8,"t":"S","x":0.5,"y":8.3},{"p":8,"t":"S","x":0.6,"y":6.0},{"p":8,"t":"S","x":0.7,"y":7.8},{"p":8,"t":"S","x":0.8,"y":5.8},{"p":8,"t":"S","x":0.9,"y":6.8},{"p":8,"t":"S","x":1.0,"y":5.5},{"p":8,"t":"S","x":1.1,"y":7.2},{"p":8,"t":"S","x":1.2,"y":5.0},{"p":8,"t":"S","x":1.3,"y":6.5},{"p":8,"t":"S","x":1.4,"y":4.0},{"p":8,"t":"S","x":1.5,"y":6.8},{"p":8,"t":"S","x":1.6,"y":3.5},{"p":8,"t":"S","x":1.7,"y":6.0},{"p":8,"t":"S","x":1.8,"y":4.5},{"p":8,"t":"S","x":1.9,"y":6.5},{"p":8,"t":"S","x":2.0,"y":3.0},{"p":8,"t":"S","x":2.1,"y":7.0},{"p":8,"t":"S","x":2.2,"y":2.5},{"p":8,"t":"S","x":2.3,"y":6.0},{"p":8,"t":"S","x":2.4,"y":1.5},{"p":8,"t":"S","x":2.5,"y":6.5},{"p":8,"t":"S","x":2.6,"y":2.0},{"p":8,"t":"S","x":2.7,"y":7.5},{"p":8,"t":"S","x":2.8,"y":0.5},{"p":8,"t":"S","x":2.9,"y":5.8},{"p":8,"t":"S","x":3.0,"y":-0.5},{"p":8,"t":"S","x":3.1,"y":6.8},{"p":8,"t":"S","x":3.2,"y":1.5},{"p":8,"t":"S","x":3.29,"y":8.6},{"p":8,"t":"S","x":3.42,"y":-2.6},{"p":8,"t":"S","x":3.5,"y":5.5},{"p":8,"t":"S","x":3.6,"y":0.5},{"p":8,"t":"S","x":3.7,"y":6.0},{"p":8,"t":"S","x":3.8,"y":-1.0},{"p":8,"t":"S","x":3.9,"y":5.0},{"p":8,"t":"S","x":4.0,"y":1.0},{"p":8,"t":"S","x":4.1,"y":4.5},{"p":8,"t":"S","x":4.18,"y":-2.6},{"p":8,"t":"S","x":4.3,"y":3.5},{"p":8,"t":"S","x":4.4,"y":1.5},{"p":8,"t":"S","x":4.5,"y":4.0},{"p":8,"t":"S","x":4.6,"y":0.5},{"p":8,"t":"S","x":4.75,"y":4.9},{"p":8,"t":"S","x":5.0,"y":2.4},{"p":8,"t":"S","x":5.2,"y":5.1},{"p":8,"t":"S","x":5.4,"y":2.5},{"p":8,"t":"S","x":5.68,"y":0.8},{"p":8,"t":"S","x":5.96,"y":6.2},{"p":8,"t":"S","x":6.23,"y":3.0},{"p":8,"t":"S","x":6.51,"y":6.6},{"p":8,"t":"S","x":6.78,"y":6.2},{"p":8,"t":"S","x":7.01,"y":8.4},{"p":8,"t":"S","x":7.26,"y":5.5},{"p":8,"t":"S","x":7.74,"y":6.3},

{"p":9,"t":"M","x":1.0,"y":8.2},{"p":9,"t":"M","x":1.96,"y":6.6},{"p":9,"t":"M","x":3.0,"y":5.5},{"p":9,"t":"M","x":4.02,"y":4.8},{"p":9,"t":"M","x":5.0,"y":4.35},{"p":9,"t":"M","x":5.94,"y":4.1},{"p":9,"t":"M","x":7.04,"y":3.9},{"p":9,"t":"M","x":8.0,"y":3.7},
{"p":9,"t":"W","x":0.32,"y":7.1},{"p":9,"t":"W","x":0.63,"y":8.4},{"p":9,"t":"W","x":1.0,"y":7.3},{"p":9,"t":"W","x":1.41,"y":6.4},{"p":9,"t":"W","x":1.76,"y":5.7},{"p":9,"t":"W","x":2.1,"y":5.6},{"p":9,"t":"W","x":2.51,"y":5.0},{"p":9,"t":"W","x":2.92,"y":4.1},{"p":9,"t":"W","x":3.33,"y":4.25},{"p":9,"t":"W","x":3.68,"y":3.5},{"p":9,"t":"W","x":3.95,"y":4.0},{"p":9,"t":"W","x":4.29,"y":3.2},{"p":9,"t":"W","x":4.64,"y":3.1},{"p":9,"t":"W","x":5.0,"y":2.1},
{"p":9,"t":"T","x":1.0,"y":7.7},{"p":9,"t":"T","x":1.41,"y":6.8},{"p":9,"t":"T","x":1.96,"y":5.7},{"p":9,"t":"T","x":2.51,"y":5.25},{"p":9,"t":"T","x":3.0,"y":4.8},{"p":9,"t":"T","x":3.47,"y":4.4},{"p":9,"t":"T","x":4.02,"y":4.7},{"p":9,"t":"T","x":4.43,"y":4.35},{"p":9,"t":"T","x":4.84,"y":3.9},{"p":9,"t":"T","x":5.12,"y":4.25},{"p":9,"t":"T","x":5.53,"y":4.35},{"p":9,"t":"T","x":5.87,"y":4.0},{"p":9,"t":"T","x":6.28,"y":3.7},{"p":9,"t":"T","x":6.69,"y":3.9},{"p":9,"t":"T","x":7.04,"y":4.25},{"p":9,"t":"T","x":7.31,"y":3.6},{"p":9,"t":"T","x":7.65,"y":4.1},{"p":9,"t":"T","x":8.0,"y":3.7},
{"p":9,"t":"S","x":0.2,"y":8.2},{"p":9,"t":"S","x":0.25,"y":3.8},{"p":9,"t":"S","x":0.33,"y":9.3},{"p":9,"t":"S","x":0.4,"y":7.0},{"p":9,"t":"S","x":0.5,"y":9.0},{"p":9,"t":"S","x":0.55,"y":6.0},{"p":9,"t":"S","x":0.65,"y":8.5},{"p":9,"t":"S","x":0.72,"y":5.5},{"p":9,"t":"S","x":0.8,"y":8.0},{"p":9,"t":"S","x":0.9,"y":6.5},{"p":9,"t":"S","x":1.0,"y":7.5},{"p":9,"t":"S","x":1.1,"y":3.9},{"p":9,"t":"S","x":1.2,"y":7.0},{"p":9,"t":"S","x":1.3,"y":5.5},{"p":9,"t":"S","x":1.4,"y":6.8},{"p":9,"t":"S","x":1.5,"y":4.5},{"p":9,"t":"S","x":1.6,"y":6.5},{"p":9,"t":"S","x":1.7,"y":5.0},{"p":9,"t":"S","x":1.8,"y":6.0},{"p":9,"t":"S","x":1.9,"y":4.0},{"p":9,"t":"S","x":2.0,"y":6.2},{"p":9,"t":"S","x":2.1,"y":2.2},{"p":9,"t":"S","x":2.2,"y":5.8},{"p":9,"t":"S","x":2.3,"y":4.0},{"p":9,"t":"S","x":2.4,"y":5.5},{"p":9,"t":"S","x":2.5,"y":3.5},{"p":9,"t":"S","x":2.6,"y":5.0},{"p":9,"t":"S","x":2.7,"y":4.0},{"p":9,"t":"S","x":2.8,"y":0.8},{"p":9,"t":"S","x":2.9,"y":5.2},{"p":9,"t":"S","x":3.0,"y":3.5},{"p":9,"t":"S","x":3.1,"y":4.5},{"p":9,"t":"S","x":3.2,"y":3.0},{"p":9,"t":"S","x":3.3,"y":5.0},{"p":9,"t":"S","x":3.4,"y":3.5},{"p":9,"t":"S","x":3.5,"y":1.3},{"p":9,"t":"S","x":3.6,"y":4.5},{"p":9,"t":"S","x":3.7,"y":3.0},{"p":9,"t":"S","x":3.8,"y":4.8},{"p":9,"t":"S","x":3.9,"y":2.5},{"p":9,"t":"S","x":4.0,"y":4.0},{"p":9,"t":"S","x":4.1,"y":1.8},{"p":9,"t":"S","x":4.2,"y":3.8},{"p":9,"t":"S","x":4.3,"y":1.5},{"p":9,"t":"S","x":4.4,"y":3.5},{"p":9,"t":"S","x":4.5,"y":1.0},{"p":9,"t":"S","x":4.6,"y":3.2},{"p":9,"t":"S","x":4.7,"y":1.2},{"p":9,"t":"S","x":4.77,"y":3.7},{"p":9,"t":"S","x":5.0,"y":2.8},{"p":9,"t":"S","x":5.25,"y":1.4},{"p":9,"t":"S","x":5.53,"y":3.0},{"p":9,"t":"S","x":5.8,"y":1.9},{"p":9,"t":"S","x":6.08,"y":2.3},{"p":9,"t":"S","x":6.25,"y":0.6},{"p":9,"t":"S","x":6.49,"y":3.2},{"p":9,"t":"S","x":6.76,"y":2.5},{"p":9,"t":"S","x":7.0,"y":3.4},{"p":9,"t":"S","x":7.24,"y":1.2},{"p":9,"t":"S","x":7.72,"y":1.0},

{"p":10,"t":"M","x":1.0,"y":7.7},{"p":10,"t":"M","x":2.0,"y":6.2},{"p":10,"t":"M","x":3.03,"y":5.25},{"p":10,"t":"M","x":4.06,"y":4.6},{"p":10,"t":"M","x":5.02,"y":4.25},{"p":10,"t":"M","x":5.98,"y":4.0},{"p":10,"t":"M","x":7.0,"y":3.9},{"p":10,"t":"M","x":8.0,"y":3.8},
{"p":10,"t":"W","x":0.3,"y":6.6},{"p":10,"t":"W","x":0.63,"y":7.9},{"p":10,"t":"W","x":1.0,"y":6.8},{"p":10,"t":"W","x":1.45,"y":5.9},{"p":10,"t":"W","x":2.0,"y":5.3},{"p":10,"t":"W","x":2.55,"y":4.6},{"p":10,"t":"W","x":3.03,"y":4.1},{"p":10,"t":"W","x":3.37,"y":4.1},{"p":10,"t":"W","x":3.72,"y":3.7},{"p":10,"t":"W","x":4.06,"y":3.9},{"p":10,"t":"W","x":4.4,"y":3.2},{"p":10,"t":"W","x":4.68,"y":3.3},{"p":10,"t":"W","x":5.02,"y":2.4},
{"p":10,"t":"T","x":1.0,"y":7.6},{"p":10,"t":"T","x":1.45,"y":6.6},{"p":10,"t":"T","x":2.0,"y":5.7},{"p":10,"t":"T","x":2.55,"y":5.2},{"p":10,"t":"T","x":3.03,"y":4.8},{"p":10,"t":"T","x":3.51,"y":4.4},{"p":10,"t":"T","x":4.06,"y":4.35},{"p":10,"t":"T","x":4.54,"y":4.2},{"p":10,"t":"T","x":5.02,"y":4.0},{"p":10,"t":"T","x":5.57,"y":3.9},{"p":10,"t":"T","x":5.98,"y":3.7},{"p":10,"t":"T","x":6.39,"y":3.9},{"p":10,"t":"T","x":6.8,"y":3.9},{"p":10,"t":"T","x":7.15,"y":4.1},{"p":10,"t":"T","x":7.49,"y":3.8},{"p":10,"t":"T","x":8.0,"y":3.9},
{"p":10,"t":"S","x":0.2,"y":7.8},{"p":10,"t":"S","x":0.25,"y":3.7},{"p":10,"t":"S","x":0.33,"y":8.7},{"p":10,"t":"S","x":0.42,"y":7.0},{"p":10,"t":"S","x":0.5,"y":8.8},{"p":10,"t":"S","x":0.6,"y":6.5},{"p":10,"t":"S","x":0.7,"y":8.6},{"p":10,"t":"S","x":0.8,"y":6.5},{"p":10,"t":"S","x":0.9,"y":8.0},{"p":10,"t":"S","x":1.0,"y":6.0},{"p":10,"t":"S","x":1.1,"y":7.5},{"p":10,"t":"S","x":1.2,"y":5.5},{"p":10,"t":"S","x":1.3,"y":7.0},{"p":10,"t":"S","x":1.4,"y":4.8},{"p":10,"t":"S","x":1.5,"y":6.8},{"p":10,"t":"S","x":1.6,"y":5.0},{"p":10,"t":"S","x":1.7,"y":6.5},{"p":10,"t":"S","x":1.8,"y":2.6},{"p":10,"t":"S","x":1.9,"y":6.0},{"p":10,"t":"S","x":2.0,"y":4.5},{"p":10,"t":"S","x":2.1,"y":5.8},{"p":10,"t":"S","x":2.2,"y":3.5},{"p":10,"t":"S","x":2.3,"y":5.5},{"p":10,"t":"S","x":2.4,"y":4.0},{"p":10,"t":"S","x":2.5,"y":5.2},{"p":10,"t":"S","x":2.6,"y":2.5},{"p":10,"t":"S","x":2.7,"y":5.0},{"p":10,"t":"S","x":2.8,"y":3.5},{"p":10,"t":"S","x":2.9,"y":4.5},{"p":10,"t":"S","x":3.0,"y":2.0},{"p":10,"t":"S","x":3.1,"y":4.8},{"p":10,"t":"S","x":3.2,"y":3.0},{"p":10,"t":"S","x":3.3,"y":4.2},{"p":10,"t":"S","x":3.4,"y":3.5},{"p":10,"t":"S","x":3.5,"y":1.0},{"p":10,"t":"S","x":3.6,"y":4.5},{"p":10,"t":"S","x":3.7,"y":2.5},{"p":10,"t":"S","x":3.8,"y":4.0},{"p":10,"t":"S","x":3.9,"y":1.5},{"p":10,"t":"S","x":4.0,"y":3.8},{"p":10,"t":"S","x":4.1,"y":2.0},{"p":10,"t":"S","x":4.2,"y":1.0},{"p":10,"t":"S","x":4.3,"y":3.5},{"p":10,"t":"S","x":4.4,"y":1.5},{"p":10,"t":"S","x":4.5,"y":3.0},{"p":10,"t":"S","x":4.6,"y":2.2},{"p":10,"t":"S","x":4.7,"y":3.8},{"p":10,"t":"S","x":4.8,"y":4.1},{"p":10,"t":"S","x":5.1,"y":3.7},{"p":10,"t":"S","x":5.3,"y":1.9},{"p":10,"t":"S","x":5.5,"y":3.5},{"p":10,"t":"S","x":5.77,"y":2.8},{"p":10,"t":"S","x":5.98,"y":3.2},{"p":10,"t":"S","x":6.26,"y":1.1},{"p":10,"t":"S","x":6.53,"y":3.3},{"p":10,"t":"S","x":6.8,"y":3.3},{"p":10,"t":"S","x":7.08,"y":3.8},{"p":10,"t":"S","x":7.28,"y":1.9},{"p":10,"t":"S","x":7.76,"y":1.5},

{"p":11,"t":"M","x":1.0,"y":10.45},{"p":11,"t":"M","x":2.03,"y":8.4},{"p":11,"t":"M","x":3.06,"y":7.05},{"p":11,"t":"M","x":4.09,"y":6.15},{"p":11,"t":"M","x":5.05,"y":5.25},{"p":11,"t":"M","x":6.0,"y":4.4},{"p":11,"t":"M","x":7.04,"y":3.9},{"p":11,"t":"M","x":8.0,"y":3.7},
{"p":11,"t":"W","x":0.32,"y":7.6},{"p":11,"t":"W","x":0.63,"y":10.6},{"p":11,"t":"W","x":1.0,"y":9.1},{"p":11,"t":"W","x":1.41,"y":8.2},{"p":11,"t":"W","x":1.76,"y":7.6},{"p":11,"t":"W","x":2.03,"y":7.4},{"p":11,"t":"W","x":2.37,"y":6.25},{"p":11,"t":"W","x":2.78,"y":6.25},{"p":11,"t":"W","x":3.13,"y":5.7},{"p":11,"t":"W","x":3.68,"y":4.6},{"p":11,"t":"W","x":4.02,"y":5.8},{"p":11,"t":"W","x":4.36,"y":5.1},{"p":11,"t":"W","x":4.64,"y":5.35},{"p":11,"t":"W","x":4.98,"y":3.9},
{"p":11,"t":"T","x":0.63,"y":10.2},{"p":11,"t":"T","x":1.0,"y":8.9},{"p":11,"t":"T","x":1.41,"y":7.9},{"p":11,"t":"T","x":2.03,"y":7.3},{"p":11,"t":"T","x":2.37,"y":6.6},{"p":11,"t":"T","x":2.78,"y":6.4},{"p":11,"t":"T","x":3.13,"y":5.9},{"p":11,"t":"T","x":3.4,"y":6.15},{"p":11,"t":"T","x":3.74,"y":5.35},{"p":11,"t":"T","x":4.09,"y":5.6},{"p":11,"t":"T","x":4.36,"y":5.35},{"p":11,"t":"T","x":4.7,"y":6.15},{"p":11,"t":"T","x":4.98,"y":4.8},{"p":11,"t":"T","x":5.32,"y":5.7},{"p":11,"t":"T","x":5.73,"y":6.0},{"p":11,"t":"T","x":6.0,"y":5.25},{"p":11,"t":"T","x":6.28,"y":4.1},
{"p":11,"t":"S","x":0.2,"y":10.0},{"p":11,"t":"S","x":0.25,"y":5.6},{"p":11,"t":"S","x":0.3,"y":13.5},{"p":11,"t":"S","x":0.38,"y":10.5},{"p":11,"t":"S","x":0.45,"y":11.6},{"p":11,"t":"S","x":0.52,"y":9.0},{"p":11,"t":"S","x":0.6,"y":10.8},{"p":11,"t":"S","x":0.68,"y":8.5},{"p":11,"t":"S","x":0.75,"y":10.5},{"p":11,"t":"S","x":0.85,"y":8.0},{"p":11,"t":"S","x":0.95,"y":10.0},{"p":11,"t":"S","x":1.05,"y":7.5},{"p":11,"t":"S","x":1.15,"y":9.5},{"p":11,"t":"S","x":1.25,"y":6.5},{"p":11,"t":"S","x":1.35,"y":9.0},{"p":11,"t":"S","x":1.45,"y":5.5},{"p":11,"t":"S","x":1.55,"y":8.5},{"p":11,"t":"S","x":1.65,"y":6.0},{"p":11,"t":"S","x":1.75,"y":9.2},{"p":11,"t":"S","x":1.85,"y":5.0},{"p":11,"t":"S","x":1.95,"y":8.5},{"p":11,"t":"S","x":2.05,"y":6.0},{"p":11,"t":"S","x":2.15,"y":10.4},{"p":11,"t":"S","x":2.25,"y":5.0},{"p":11,"t":"S","x":2.35,"y":8.0},{"p":11,"t":"S","x":2.45,"y":3.5},{"p":11,"t":"S","x":2.55,"y":9.0},{"p":11,"t":"S","x":2.62,"y":2.2},{"p":11,"t":"S","x":2.7,"y":8.0},{"p":11,"t":"S","x":2.8,"y":4.0},{"p":11,"t":"S","x":2.9,"y":7.5},{"p":11,"t":"S","x":3.0,"y":2.5},{"p":11,"t":"S","x":3.1,"y":8.5},{"p":11,"t":"S","x":3.2,"y":1.2},{"p":11,"t":"S","x":3.3,"y":7.0},{"p":11,"t":"S","x":3.4,"y":0.8},{"p":11,"t":"S","x":3.5,"y":6.5},{"p":11,"t":"S","x":3.58,"y":-0.4},{"p":11,"t":"S","x":3.68,"y":10.5},{"p":11,"t":"S","x":3.78,"y":3.0},{"p":11,"t":"S","x":3.88,"y":7.0},{"p":11,"t":"S","x":3.98,"y":2.5},{"p":11,"t":"S","x":4.08,"y":6.0},{"p":11,"t":"S","x":4.2,"y":0.5},{"p":11,"t":"S","x":4.3,"y":5.5},{"p":11,"t":"S","x":4.4,"y":3.5},{"p":11,"t":"S","x":4.5,"y":4.8},{"p":11,"t":"S","x":4.77,"y":6.5},{"p":11,"t":"S","x":4.98,"y":5.9},{"p":11,"t":"S","x":5.25,"y":5.8},{"p":11,"t":"S","x":5.53,"y":5.0},{"p":11,"t":"S","x":5.73,"y":5.25},{"p":11,"t":"S","x":6.0,"y":5.9},{"p":11,"t":"S","x":6.25,"y":2.3},{"p":11,"t":"S","x":6.56,"y":5.9},{"p":11,"t":"S","x":6.76,"y":7.4},{"p":11,"t":"S","x":7.04,"y":6.5},{"p":11,"t":"S","x":7.27,"y":3.0},{"p":11,"t":"S","x":7.72,"y":2.9},

{"p":12,"t":"M","x":1.03,"y":8.6},{"p":12,"t":"M","x":1.99,"y":7.6},{"p":12,"t":"M","x":3.0,"y":6.4},{"p":12,"t":"M","x":4.04,"y":5.3},{"p":12,"t":"M","x":5.0,"y":4.35},{"p":12,"t":"M","x":6.03,"y":3.2},{"p":12,"t":"M","x":7.05,"y":2.3},{"p":12,"t":"M","x":8.0,"y":1.85},
{"p":12,"t":"W","x":0.34,"y":6.7},{"p":12,"t":"W","x":0.64,"y":8.8},{"p":12,"t":"W","x":1.03,"y":7.9},{"p":12,"t":"W","x":1.58,"y":7.05},{"p":12,"t":"W","x":1.99,"y":6.3},{"p":12,"t":"W","x":2.4,"y":5.35},{"p":12,"t":"W","x":2.81,"y":5.25},{"p":12,"t":"W","x":3.08,"y":4.35},{"p":12,"t":"W","x":3.36,"y":4.35},{"p":12,"t":"W","x":3.7,"y":3.45},{"p":12,"t":"W","x":4.01,"y":5.0},{"p":12,"t":"W","x":4.32,"y":3.45},{"p":12,"t":"W","x":4.7,"y":3.8},{"p":12,"t":"W","x":5.0,"y":2.45},
{"p":12,"t":"T","x":0.64,"y":8.5},{"p":12,"t":"T","x":1.03,"y":7.7},{"p":12,"t":"T","x":1.58,"y":6.8},{"p":12,"t":"T","x":1.99,"y":6.6},{"p":12,"t":"T","x":2.4,"y":5.5},{"p":12,"t":"T","x":2.81,"y":5.35},{"p":12,"t":"T","x":3.08,"y":4.8},{"p":12,"t":"T","x":3.36,"y":5.0},{"p":12,"t":"T","x":3.7,"y":3.9},{"p":12,"t":"T","x":4.01,"y":4.6},{"p":12,"t":"T","x":4.38,"y":3.45},{"p":12,"t":"T","x":4.7,"y":5.25},{"p":12,"t":"T","x":5.0,"y":3.0},{"p":12,"t":"T","x":5.34,"y":4.25},{"p":12,"t":"T","x":5.68,"y":3.9},{"p":12,"t":"T","x":6.03,"y":3.45},{"p":12,"t":"T","x":6.3,"y":2.9},
{"p":12,"t":"S","x":0.2,"y":7.8},{"p":12,"t":"S","x":0.25,"y":5.0},{"p":12,"t":"S","x":0.3,"y":10.2},{"p":12,"t":"S","x":0.4,"y":8.0},{"p":12,"t":"S","x":0.45,"y":10.0},{"p":12,"t":"S","x":0.55,"y":8.0},{"p":12,"t":"S","x":0.62,"y":9.5},{"p":12,"t":"S","x":0.7,"y":7.5},{"p":12,"t":"S","x":0.8,"y":9.0},{"p":12,"t":"S","x":0.9,"y":7.0},{"p":12,"t":"S","x":1.0,"y":8.2},{"p":12,"t":"S","x":1.1,"y":6.5},{"p":12,"t":"S","x":1.2,"y":8.0},{"p":12,"t":"S","x":1.3,"y":5.5},{"p":12,"t":"S","x":1.4,"y":8.5},{"p":12,"t":"S","x":1.5,"y":6.0},{"p":12,"t":"S","x":1.6,"y":7.5},{"p":12,"t":"S","x":1.7,"y":5.0},{"p":12,"t":"S","x":1.8,"y":8.0},{"p":12,"t":"S","x":1.9,"y":5.5},{"p":12,"t":"S","x":2.0,"y":7.0},{"p":12,"t":"S","x":2.1,"y":4.5},{"p":12,"t":"S","x":2.2,"y":7.5},{"p":12,"t":"S","x":2.3,"y":4.0},{"p":12,"t":"S","x":2.4,"y":6.5},{"p":12,"t":"S","x":2.5,"y":5.0},{"p":12,"t":"S","x":2.6,"y":7.8},{"p":12,"t":"S","x":2.7,"y":3.5},{"p":12,"t":"S","x":2.8,"y":7.0},{"p":12,"t":"S","x":2.9,"y":4.5},{"p":12,"t":"S","x":3.0,"y":6.0},{"p":12,"t":"S","x":3.1,"y":3.0},{"p":12,"t":"S","x":3.2,"y":7.0},{"p":12,"t":"S","x":3.3,"y":3.5},{"p":12,"t":"S","x":3.4,"y":6.5},{"p":12,"t":"S","x":3.5,"y":3.0},{"p":12,"t":"S","x":3.6,"y":5.5},{"p":12,"t":"S","x":3.7,"y":2.5},{"p":12,"t":"S","x":3.8,"y":6.0},{"p":12,"t":"S","x":3.9,"y":2.2},{"p":12,"t":"S","x":4.0,"y":5.5},{"p":12,"t":"S","x":4.1,"y":3.0},{"p":12,"t":"S","x":4.2,"y":5.0},{"p":12,"t":"S","x":4.3,"y":3.5},{"p":12,"t":"S","x":4.4,"y":4.5},{"p":12,"t":"S","x":4.5,"y":3.0},{"p":12,"t":"S","x":4.6,"y":4.0},{"p":12,"t":"S","x":4.75,"y":5.9},{"p":12,"t":"S","x":5.0,"y":4.0},{"p":12,"t":"S","x":5.27,"y":1.85},{"p":12,"t":"S","x":5.55,"y":5.8},{"p":12,"t":"S","x":5.75,"y":4.1},{"p":12,"t":"S","x":6.03,"y":5.0},{"p":12,"t":"S","x":6.3,"y":3.1},{"p":12,"t":"S","x":6.51,"y":5.25},{"p":12,"t":"S","x":6.78,"y":7.5},{"p":12,"t":"S","x":7.05,"y":5.0},{"p":12,"t":"S","x":7.33,"y":4.35},{"p":12,"t":"S","x":7.78,"y":2.1}
]},
"transform": [
{"lookup": "p", "from": {"data": {"name": "pn"}, "key": "p", "fields": ["panel", "r", "c"]}},
{"lookup": "t", "from": {"data": {"name": "tn"}, "key": "t", "fields": ["type"]}}
],
"facet": {
 "row": {"field": "r", "type": "ordinal", "header": {"labels": false, "title": "Mean Score", "titleOrient": "left", "titleFontSize": 19, "titleFontWeight": "normal", "titleColor": "#000000", "titlePadding": 0}},
 "column": {"field": "c", "type": "ordinal", "header": {"labels": false, "title": "Ratio", "orient": "bottom", "titleOrient": "bottom", "titleFontSize": 19, "titleFontWeight": "normal", "titleColor": "#000000", "titlePadding": 0}}
},
"spacing": {"row": 10.5, "column": 11},
"spec": {
 "width": 208.5,
 "height": 226,
 "layer": [
  {"mark": {"type": "line", "strokeWidth": 1.7, "strokeJoin": "round"},
   "encoding": {
    "x": {"field": "x", "type": "quantitative",
     "scale": {"domain": [-0.19, 8.39], "nice": false, "zero": false},
     "axis": {"title": null, "values": [0,1,2,3,4,5,6,7,8],
      "labelExpr": "datum.value % 2 == 0 ? '' + datum.value : ''",
      "gridWidth": {"condition": {"test": "datum.value % 2 != 0", "value": 1}, "value": 2},
      "tickOpacity": {"condition": {"test": "datum.value % 2 != 0", "value": 0}, "value": 1}}},
    "y": {"field": "y", "type": "quantitative",
     "scale": {"domain": [-15.6, 15.0], "nice": false, "zero": false},
     "axis": {"title": null, "values": [-15,-12.5,-10,-7.5,-5,-2.5,0,2.5,5,7.5,10,12.5],
      "labelExpr": "datum.value % 5 == 0 ? '' + datum.value : ''",
      "gridWidth": {"condition": {"test": "datum.value % 5 != 0", "value": 1}, "value": 2},
      "tickOpacity": {"condition": {"test": "datum.value % 5 != 0", "value": 0}, "value": 1}}},
    "color": {"field": "type", "type": "nominal",
     "scale": {"domain": ["Modifier Weight Ratio","Syllable Weight Ratio","Token Length Ratio","Word Length Ratio"], "range": ["#D55E00","#0072B2","#E69F00","#000000"]},
     "legend": {"title": "Ratio Type", "orient": "none", "legendX": 900, "legendY": 299}}
   }},
  {"transform": [{"aggregate": [{"op": "count", "as": "n"}], "groupby": ["panel"]}],
   "mark": {"type": "rect", "fill": "#D9D9D9"},
   "encoding": {
    "x": {"datum": -0.19, "type": "quantitative"},
    "x2": {"datum": 8.39},
    "y": {"datum": 15.0, "type": "quantitative"},
    "y2": {"datum": 19.56}
   }},
  {"transform": [{"aggregate": [{"op": "count", "as": "n"}], "groupby": ["panel"]}],
   "mark": {"type": "text", "fontSize": 17.5, "color": "#1A1A1A", "baseline": "middle", "align": "center"},
   "encoding": {
    "x": {"datum": 4.1, "type": "quantitative"},
    "y": {"datum": 17.28, "type": "quantitative"},
    "text": {"field": "panel", "type": "nominal"}
   }}
 ]
},
"config": {
 "font": "Liberation Sans",
 "view": {"fill": "#EBEBEB", "stroke": null},
 "headerRow": {"labels": false},
 "headerColumn": {"labels": false},
 "axis": {"domain": false, "gridColor": "#FFFFFF", "tickColor": "#333333", "tickSize": 5, "tickWidth": 1.2,
  "labelColor": "#4D4D4D", "labelFontSize": 17, "labelPadding": 3, "labelFlush": false, "labelOverlap": false},
 "legend": {"symbolType": "stroke", "symbolSize": 1000, "symbolStrokeWidth": 2, "labelFontSize": 15, "labelColor": "#000000",
  "titleFontSize": 19, "titleFontWeight": "normal", "titleColor": "#000000", "titlePadding": 14, "rowPadding": 9.2, "labelOffset": 10, "padding": 0}
}
}
